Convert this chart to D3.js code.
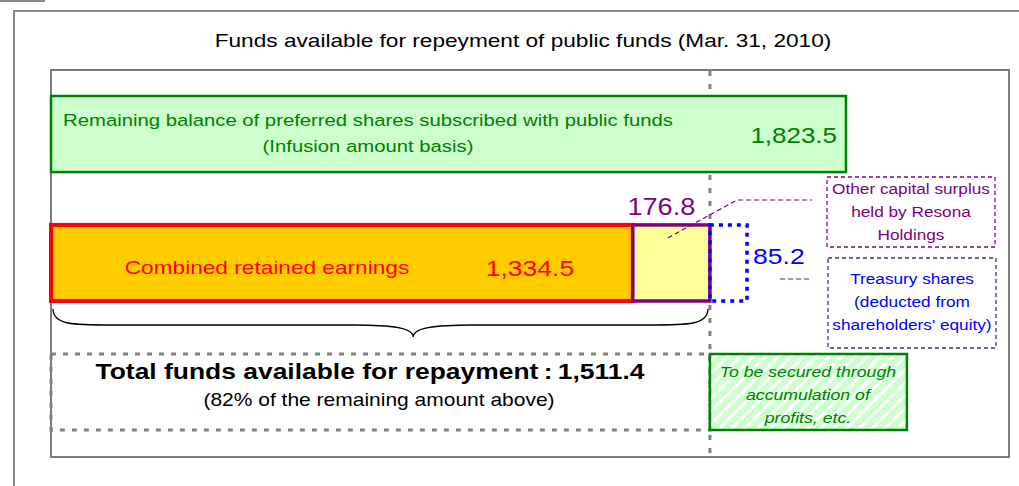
<!DOCTYPE html>
<html>
<head>
<meta charset="utf-8">
<script src="https://cdn.jsdelivr.net/npm/d3@7"></script>
<style>
  body { margin: 0; background: #fff; }
  svg { display: block; font-family: "Liberation Sans", Arial, sans-serif; }
</style>
</head>
<body>
<svg id="chart" width="1019" height="486"></svg>
<script>
// values (billion yen)
const rows = ["preferred", "retained"];
const preferredBalance = 1823.5;
const segmentNames = ["Combined retained earnings", "Other capital surplus", "Treasury shares"];
const segmentValues = [1334.5, 176.8, 85.2];
const totalAvailable = 1511.4;
const titleText = "Funds available for repeyment of public funds (Mar. 31, 2010)";
const preferredLabel = ["Remaining balance of preferred shares subscribed with public funds", "(Infusion amount basis)"];
const otherLabel = ["Other capital surplus", "held by Resona", "Holdings"];
const treasuryLabel = ["Treasury shares", "(deducted from", "shareholders' equity)"];
const securedLabel = ["To be secured through", "accumulation of", "profits, etc."];
const totalLabel = "Total funds available for repayment\u2009:\u2009";
const totalSub = "(82% of the remaining amount above)";

const fmt = d3.format(",.1f");
const svg = d3.select("#chart");
const K = 1.18; // letterforms in the original are wider than Liberation Sans

const x = d3.scaleLinear().domain([0, preferredBalance]).range([51, 846]);
const y = d3.scaleBand().domain(rows).range([96, 301]).paddingInner(0.41);
const bh = y.bandwidth();

// stacked segments for second row
let acc = 0;
const segs = segmentValues.map((v, i) => {
  const s = { name: segmentNames[i], value: v, x0: acc, x1: acc + v };
  acc += v;
  return s;
});

const defs = svg.append("defs");
const pat = defs.append("pattern")
  .attr("id", "hatch")
  .attr("patternUnits", "userSpaceOnUse")
  .attr("width", 9).attr("height", 9)
  .attr("patternTransform", "rotate(45)");
pat.append("rect").attr("width", 9).attr("height", 9).attr("fill", "#ccffcc");
pat.append("rect").attr("width", 3).attr("height", 9).attr("fill", "#ffffff");

// text stretched horizontally around its anchor
function label(tx, ty, str, size, color, anchor) {
  return svg.append("text")
    .attr("x", tx / K).attr("y", ty)
    .attr("transform", `scale(${K},1)`)
    .attr("text-anchor", anchor || "middle")
    .attr("font-size", size).attr("fill", color).text(str);
}

// frames
svg.append("line").attr("x1", 0).attr("x2", 45).attr("y1", 1).attr("y2", 1)
  .attr("stroke", "#888").attr("stroke-width", 2);
svg.append("rect").attr("x", 14).attr("y", 11).attr("width", 1030).attr("height", 500)
  .attr("fill", "none").attr("stroke", "#888").attr("stroke-width", 2);
svg.append("rect").attr("x", 51).attr("y", 70).attr("width", 958).attr("height", 387)
  .attr("fill", "none").attr("stroke", "#7a7a7a").attr("stroke-width", 2);

label(523, 47, titleText, 19.2, "#000");

// vertical guide at total available
svg.append("line")
  .attr("x1", x(totalAvailable)).attr("x2", x(totalAvailable))
  .attr("y1", 71).attr("y2", 457)
  .attr("stroke", "#808080").attr("stroke-width", 3).attr("stroke-dasharray", "5,8");

// preferred shares bar
svg.append("rect")
  .attr("x", x(0)).attr("y", y("preferred"))
  .attr("width", x(preferredBalance) - x(0)).attr("height", bh)
  .attr("fill", "#ccffcc").attr("stroke", "#008000").attr("stroke-width", 2.5);
preferredLabel.forEach((t, i) => label(368, y("preferred") + 30 + i * 26, t, 17.2, "#008000"));
label(x(preferredBalance) - 9, y("preferred") + 47, fmt(preferredBalance), 22, "#008000", "end");

// second row
const segStyle = [
  { fill: "#ffcc00", stroke: "#ff0000", sw: 4, dash: null },
  { fill: "#ffff99", stroke: "#800080", sw: 3.5, dash: null },
  { fill: "none", stroke: "#0000ff", sw: 3.5, dash: "4,5" }
];
svg.selectAll(".seg").data(segs).join("rect")
  .attr("class", "seg")
  .attr("x", d => x(d.x0)).attr("y", y("retained"))
  .attr("width", d => x(d.x1) - x(d.x0)).attr("height", bh)
  .attr("fill", (d, i) => segStyle[i].fill)
  .attr("stroke", (d, i) => segStyle[i].stroke)
  .attr("stroke-width", (d, i) => segStyle[i].sw)
  .attr("stroke-dasharray", (d, i) => segStyle[i].dash);

const yr = y("retained");
label(267, yr + 49, segs[0].name, 19.2, "#ff0000");
label(530, yr + 51, fmt(segs[0].value), 22.5, "#ff0000");
label((x(segs[1].x0) + x(segs[1].x1)) / 2 - 10, yr - 10, fmt(segs[1].value), 23, "#800080");
label(x(segs[2].x1) + 6, yr + 39, fmt(segs[2].value), 22.5, "#0000ff", "start");

// leader lines
svg.append("path")
  .attr("d", `M${x(segs[1].x0) + 35},${yr + 13}L737,200H812`)
  .attr("fill", "none").attr("stroke", "#800080").attr("stroke-width", 1.2)
  .attr("stroke-dasharray", "5,3");
svg.append("line").attr("x1", 780).attr("x2", 811).attr("y1", 279).attr("y2", 279)
  .attr("stroke", "#333399").attr("stroke-width", 1.2).attr("stroke-dasharray", "5,3");

// callout boxes
function callout(bx, by, bw, bhh, lines, stroke, color, firstY) {
  svg.append("rect").attr("x", bx).attr("y", by).attr("width", bw).attr("height", bhh)
    .attr("fill", "#fff").attr("stroke", stroke).attr("stroke-width", 1.3)
    .attr("stroke-dasharray", "4,3");
  lines.forEach((t, i) => label(bx + bw / 2, firstY + i * 23, t, 14.6, color));
}
callout(827, 177, 168, 70, otherLabel, "#800080", "#800080", 194);
callout(828, 258, 168, 90, treasuryLabel, "#333399", "#0000ff", 284);

// brace under the available funds
const bx0 = x(0) + 2, bx1 = x(totalAvailable) - 2, tipX = bx0 + (bx1 - bx0) * 0.55;
const by0 = 309, byM = 325, byT = 337;
svg.append("path")
  .attr("d", `M${bx0},${by0}C${bx0},${byM} ${bx0 + 20},${byM} ${bx0 + 60},${byM}` +
    `L${tipX - 60},${byM}C${tipX - 20},${byM} ${tipX},${byM + 3} ${tipX},${byT}` +
    `C${tipX},${byM + 3} ${tipX + 20},${byM} ${tipX + 60},${byM}` +
    `L${bx1 - 60},${byM}C${bx1 - 20},${byM} ${bx1},${byM} ${bx1},${by0}`)
  .attr("fill", "none").attr("stroke", "#000").attr("stroke-width", 1.3);

// total funds box
svg.append("rect").attr("x", x(0)).attr("y", 354)
  .attr("width", x(totalAvailable) - x(0)).attr("height", 76)
  .attr("fill", "none").attr("stroke", "#808080").attr("stroke-width", 3)
  .attr("stroke-dasharray", "5,7");
label(370, 379, totalLabel + fmt(totalAvailable), 22.4, "#000").attr("font-weight", "bold");
label(379, 406, totalSub, 17.8, "#000");

// to-be-secured box
svg.append("rect").attr("x", x(totalAvailable)).attr("y", 354)
  .attr("width", 197).attr("height", 76)
  .attr("fill", "url(#hatch)").attr("stroke", "#008000").attr("stroke-width", 2.5);
securedLabel.forEach((t, i) =>
  label(x(totalAvailable) + 98, 377 + i * 23, t, 15, "#008000").attr("font-style", "italic"));
</script>
</body>
</html>
